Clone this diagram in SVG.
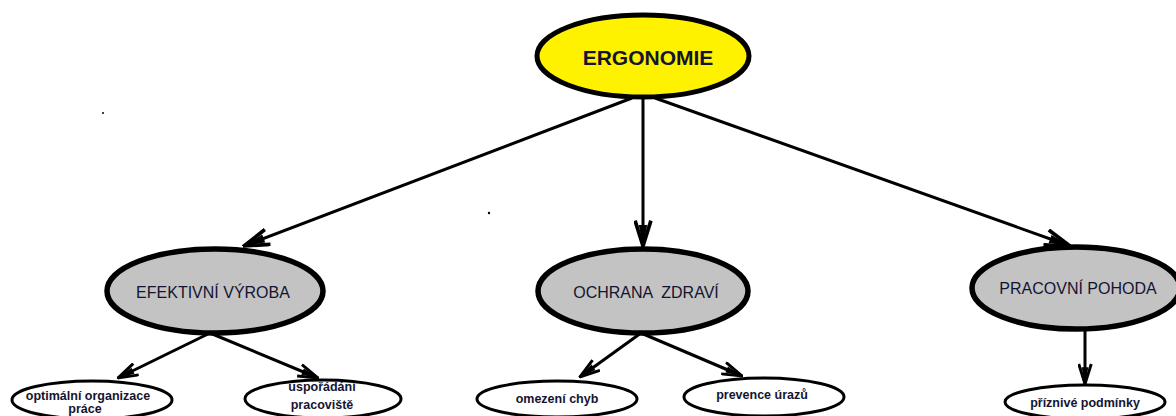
<svg xmlns="http://www.w3.org/2000/svg" width="1176" height="416" viewBox="0 0 1176 416">
<style>
.bg{fill:#ffffff}
.root{fill:#fff200;stroke:#000;stroke-width:5}
.mid{fill:#c3c3c3;stroke:#000;stroke-width:5.5}
.leaf{fill:#ffffff;stroke:#000;stroke-width:3}
.t{font-family:"Liberation Sans",Arial,sans-serif;fill:#141430;text-anchor:middle;dominant-baseline:central;white-space:pre}
.tr{font-size:21px;font-weight:bold}
.tm{font-size:16px}
.tl{font-size:12.5px;font-weight:bold}
.c{stroke:#000;stroke-width:3;fill:none}
</style>
<defs>
<marker id="ah" viewBox="0 0 26 18" refX="25" refY="9" markerWidth="28" markerHeight="19" markerUnits="userSpaceOnUse" orient="auto">
<path d="M1,1.5 L25,9 L1,16.5" fill="none" stroke="#000" stroke-width="3.5"/>
<path d="M5,5 L25,9 L5,13 Z" fill="#000"/>
</marker>
<marker id="ahs" viewBox="0 0 26 18" refX="25" refY="9" markerWidth="22" markerHeight="15" markerUnits="userSpaceOnUse" orient="auto">
<path d="M1,1.5 L25,9 L1,16.5" fill="none" stroke="#000" stroke-width="3.5"/>
<path d="M5,5 L25,9 L5,13 Z" fill="#000"/>
</marker>
</defs>
<rect class="bg" x="0" y="0" width="1176" height="416"/>
<g id="connectors">
<line class="c" x1="632" y1="98" x2="244" y2="246" marker-end="url(#ah)"/>
<line class="c" x1="643" y1="98" x2="643" y2="246" marker-end="url(#ah)"/>
<line class="c" x1="655" y1="98" x2="1070" y2="246" marker-end="url(#ah)"/>
<line class="c" x1="210" y1="333" x2="118" y2="378" marker-end="url(#ahs)"/>
<line class="c" x1="210" y1="333" x2="318" y2="378" marker-end="url(#ahs)"/>
<line class="c" x1="641" y1="333" x2="580" y2="377" marker-end="url(#ahs)"/>
<line class="c" x1="641" y1="333" x2="742" y2="376" marker-end="url(#ahs)"/>
<line class="c" x1="1085" y1="330" x2="1085" y2="384" marker-end="url(#ahs)"/>
</g>
<g id="ergonomie">
<ellipse class="root" cx="643" cy="56" rx="106" ry="41"/>
<text class="t tr" x="648" y="57">ERGONOMIE</text>
</g>
<g id="efektivni-vyroba">
<ellipse class="mid" cx="215" cy="291" rx="108" ry="42"/>
<text class="t tm" x="213" y="292">EFEKTIVNÍ VÝROBA</text>
</g>
<g id="ochrana-zdravi">
<ellipse class="mid" cx="643" cy="291" rx="105" ry="42"/>
<text class="t tm" x="646" y="292" xml:space="preserve">OCHRANA  ZDRAVÍ</text>
</g>
<g id="pracovni-pohoda">
<ellipse class="mid" cx="1076" cy="288" rx="104" ry="41"/>
<text class="t tm" x="1078" y="288">PRACOVNÍ POHODA</text>
</g>
<g id="optimalni-organizace">
<ellipse class="leaf" cx="92" cy="400" rx="80" ry="19"/>
<text class="t tl" x="88" y="396">optimální organizace</text>
<text class="t tl" x="85" y="409">práce</text>
</g>
<g id="usporadani-pracoviste">
<ellipse class="leaf" cx="323" cy="399" rx="78" ry="19"/>
<text class="t tl" x="322" y="387">uspořádání</text>
<text class="t tl" x="322" y="405">pracoviště</text>
</g>
<g id="omezeni-chyb">
<ellipse class="leaf" cx="557" cy="399" rx="80" ry="18"/>
<text class="t tl" x="557" y="399">omezení chyb</text>
</g>
<g id="prevence-urazu">
<ellipse class="leaf" cx="764" cy="397" rx="80" ry="19"/>
<text class="t tl" x="762" y="395">prevence úrazů</text>
</g>
<g id="priznive-podminky">
<ellipse class="leaf" cx="1085" cy="402" rx="80" ry="17"/>
<text class="t tl" x="1085" y="403">příznivé podmínky</text>
</g>
<circle cx="103" cy="113" r="1" fill="#000"/>
<circle cx="489" cy="213" r="1.2" fill="#000"/>
</svg>
